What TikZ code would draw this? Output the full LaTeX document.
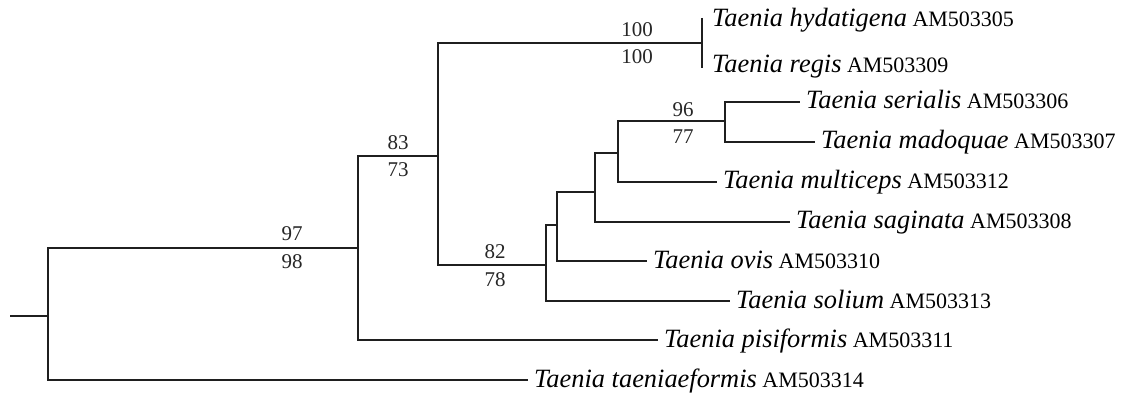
\documentclass[tikz,border=0pt]{standalone}
\usepackage{fontspec}
\setmainfont{Liberation Serif}
\begin{document}
\begin{tikzpicture}[x=1pt,y=-1pt,
  br/.style={line width=1.8pt,draw=black!88},
  tip/.style={anchor=base west,inner sep=0pt,xshift=6pt,yshift=-7pt},
  sup/.style={inner sep=0pt,anchor=center,font=\fontsize{21}{21}\selectfont,text=black!85}]
\useasboundingbox (0,0) rectangle (1127,398);
% internal nodes
\coordinate (S) at (10,316);
\coordinate (R) at (48,316);
\coordinate (A) at (358,248);
\coordinate (B) at (438,156);
\coordinate (C) at (702,43);
\coordinate (D) at (546,265);
\coordinate (E) at (557,225);
\coordinate (F) at (595,192);
\coordinate (G) at (618,153);
\coordinate (H) at (725,121);
% tips
\coordinate (t1) at (702,20);
\coordinate (t2) at (702,66);
\coordinate (t3) at (800,102);
\coordinate (t4) at (815,142);
\coordinate (t5) at (717,182);
\coordinate (t6) at (790,222);
\coordinate (t7) at (647,261);
\coordinate (t8) at (730,301);
\coordinate (t9) at (658,340);
\coordinate (t10) at (528,380);
% branches
\draw[br] (S) -- (R);
\draw[br] (R) |- (A);
\draw[br] (R) |- (t10);
\draw[br] (A) |- (B);
\draw[br] (A) |- (t9);
\draw[br] (B) |- (C);
\draw[br] (B) |- (D);
\draw[br,shorten <=-2pt,shorten >=-2pt] (t1) -- (t2);
\draw[br] (D) |- (E);
\draw[br] (D) |- (t8);
\draw[br] (E) |- (F);
\draw[br] (E) |- (t7);
\draw[br] (F) |- (G);
\draw[br] (F) |- (t6);
\draw[br] (G) |- (H);
\draw[br] (G) |- (t5);
\draw[br] (H) |- (t3);
\draw[br] (H) |- (t4);
% tip labels
\newcommand{\taxon}[2]{{\fontsize{26.4}{26.4}\selectfont\itshape #1}{\fontsize{22}{22}\selectfont\ #2}}
\node[tip,xshift=4pt] (n1) at (t1) {\taxon{Taenia hydatigena}{AM503305}};
\node[tip,xshift=4pt] (n2) at (t2) {\taxon{Taenia regis}{AM503309}};
\node[tip] (n3) at (t3) {\taxon{Taenia serialis}{AM503306}};
\node[tip] (n4) at (t4) {\taxon{Taenia madoquae}{AM503307}};
\node[tip] (n5) at (t5) {\taxon{Taenia multiceps}{AM503312}};
\node[tip] (n6) at (t6) {\taxon{Taenia saginata}{AM503308}};
\node[tip] (n7) at (t7) {\taxon{Taenia ovis}{AM503310}};
\node[tip] (n8) at (t8) {\taxon{Taenia solium}{AM503313}};
\node[tip] (n9) at (t9) {\taxon{Taenia pisiformis}{AM503311}};
\node[tip] (n10) at (t10) {\taxon{Taenia taeniaeformis}{AM503314}};
% support values
\node[sup] (s1a) at (292,234) {97};
\node[sup] (s1b) at (292,262) {98};
\node[sup] (s2a) at (398,143) {83};
\node[sup] (s2b) at (398,170) {73};
\node[sup] (s3a) at (637,30) {100};
\node[sup] (s3b) at (637,57) {100};
\node[sup] (s4a) at (683,110) {96};
\node[sup] (s4b) at (683,137) {77};
\node[sup] (s5a) at (495,252) {82};
\node[sup] (s5b) at (495,280) {78};
\end{tikzpicture}
\end{document}
